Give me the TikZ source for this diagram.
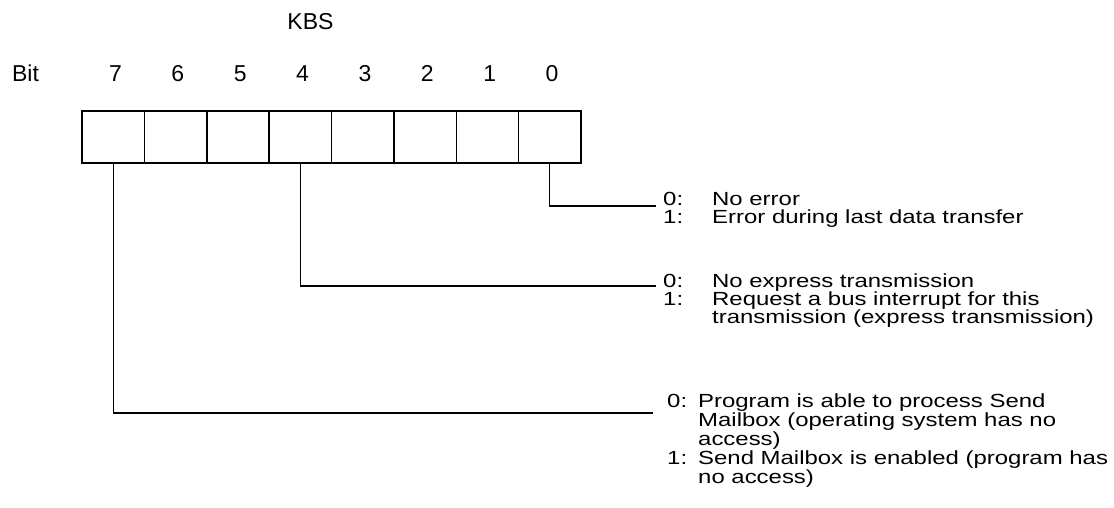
\documentclass[tikz,border=0pt]{standalone}
\usepackage{fontspec}
\setmainfont{Liberation Sans}
\newfontfamily\widesans[FakeStretch=1.26]{Liberation Sans}
\newcommand{\keylbl}[2]{\makebox[#1][l]{#2}}
\newcommand{\linesblock}[2]{\vtop{\baselineskip=#1\lineskiplimit=-100pt\lineskip=0pt #2}}
\begin{document}
\begin{tikzpicture}[x=1pt,y=-1pt,
  cell/.style={draw, line width=1.5pt, minimum width=62.375pt, minimum height=52pt, inner sep=0pt},
  hdr/.style={font=\fontsize{23}{26}\selectfont, anchor=base, inner sep=0pt},
  lead/.style={line width=1.3pt},
  desc/.style={anchor=base west, inner sep=0pt, font=\widesans\fontsize{19}{18.5}\selectfont}
]
\useasboundingbox (0,0) rectangle (1114,508);
\foreach \i in {0,...,7} {
  \node[cell] (c\i) at ({82+62.375*(7-\i)+31.19},137) {};
  \node[hdr] (b\i) at ({82+62.375*(7-\i)+33.5},82) {\i};
}
\node[hdr] (kbs) at (310.5,30) {KBS};
\node[hdr] (bit) at (25.5,82) {Bit};
\coordinate (e0) at (656,206);
\coordinate (e4) at (656,286);
\coordinate (e7) at (653,413);
\draw[lead] (c0.south) |- (e0);
\draw[lead] (c4.south) |- (e4);
\draw[lead] (c7.south) |- (e7);
\node[desc] (t0) at (663,205) {\linesblock{18pt}{%
  \hbox{\keylbl{49pt}{0:}No error}%
  \hbox{\keylbl{49pt}{1:}Error during last data transfer}}};
\node[desc] (t4) at (663,287) {\linesblock{18.3pt}{%
  \hbox{\keylbl{49pt}{0:}No express transmission}%
  \hbox{\keylbl{49pt}{1:}Request a bus interrupt for this}%
  \hbox{\keylbl{49pt}{}transmission (express transmission)}}};
\node[desc] (t7) at (667,407) {\linesblock{19pt}{%
  \hbox{\keylbl{31pt}{0:}Program is able to process Send}%
  \hbox{\keylbl{31pt}{}Mailbox (operating system has no}%
  \hbox{\keylbl{31pt}{}access)}%
  \hbox{\keylbl{31pt}{1:}Send Mailbox is enabled (program has}%
  \hbox{\keylbl{31pt}{}no access)}}};
\end{tikzpicture}
\end{document}
